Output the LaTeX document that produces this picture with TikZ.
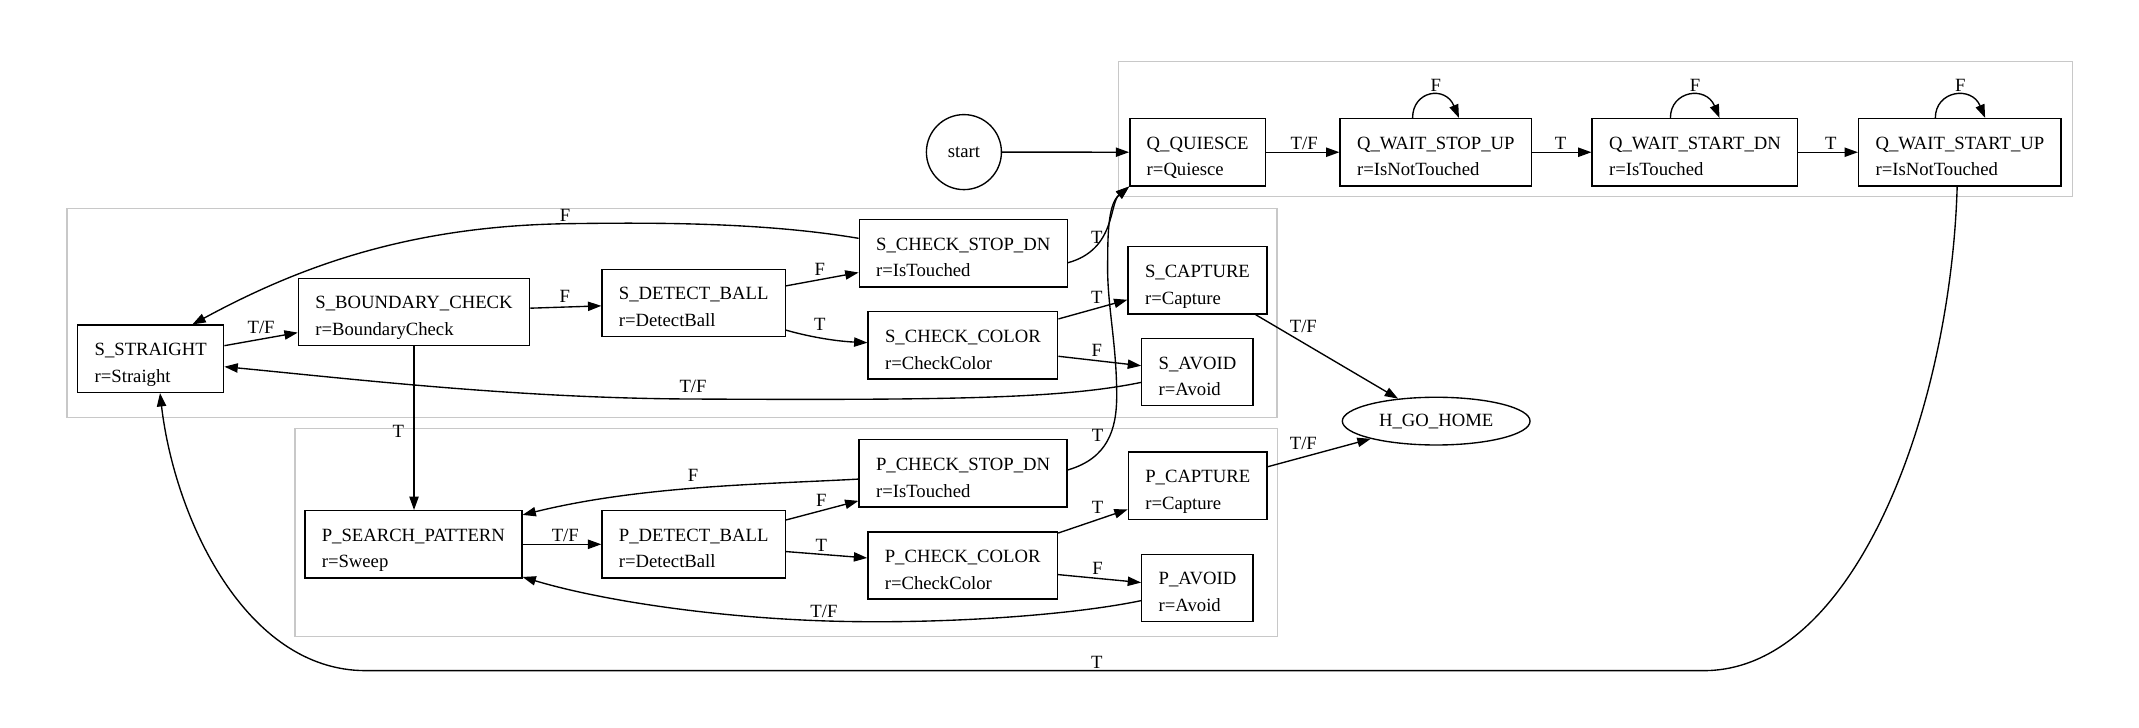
\documentclass[tikz,border=0pt]{standalone}
\usepackage{fontspec}
\setmainfont{Liberation Serif}
\usetikzlibrary{arrows.meta,shapes.geometric}
\definecolor{clgray}{RGB}{200,200,200}
\newcommand{\nfont}{\fontsize{13.7pt}{19.6pt}\selectfont}
\newcommand{\twoline}[2]{\rule{0pt}{22.4pt}#1\\#2\rule[-7.3pt]{0pt}{7.3pt}}
\tikzset{
  st/.style={draw, rectangle, line width=1pt, align=left, inner xsep=12.4pt, inner ysep=0pt, font=\nfont},
  startst/.style={draw, circle, line width=1pt, minimum size=55pt, inner sep=0pt, font=\nfont},
  home/.style={draw, ellipse, line width=1pt, minimum width=137.6pt, minimum height=35pt, inner sep=0pt, font=\nfont},
  edge/.style={line width=1pt, -{Triangle[length=9.8pt,width=6.8pt]}},
  lbl/.style={font=\nfont, inner sep=0pt},
  cluster/.style={draw=clgray, line width=1pt},
}
\begin{document}
\begin{tikzpicture}[x=1pt,y=1pt]
\useasboundingbox (0,0) rectangle (1568,-533);
\fill[white] (0,0) rectangle (1568,-533);
% clusters
\draw[cluster] (820,-45.2) rectangle (1519,-144.2);
\draw[cluster] (49,-152.7) rectangle (936,-306);
\draw[cluster] (216.2,-314) rectangle (936.5,-466.8);
% nodes
\node[startst] (start) at (706.6,-111.5) {start};
\node[st] (qq) at (877.9,-111.6) {\twoline{Q\_QUIESCE}{r=Quiesce}};
\node[st] (qwsu) at (1052.5,-111.6) {\twoline{Q\_WAIT\_STOP\_UP}{r=IsNotTouched}};
\node[st] (qwsd) at (1242.5,-111.6) {\twoline{Q\_WAIT\_START\_DN}{r=IsTouched}};
\node[st] (qwsp) at (1436.7,-111.6) {\twoline{Q\_WAIT\_START\_UP}{r=IsNotTouched}};
\node[st] (sst) at (110.5,-263) {\twoline{S\_STRAIGHT}{r=Straight}};
\node[st] (sbc) at (303.5,-228.7) {\twoline{S\_BOUNDARY\_CHECK}{r=BoundaryCheck}};
\node[st] (sdb) at (508.5,-222) {\twoline{S\_DETECT\_BALL}{r=DetectBall}};
\node[st] (scsd) at (706.1,-185.7) {\twoline{S\_CHECK\_STOP\_DN}{r=IsTouched}};
\node[st] (scc) at (705.9,-253.2) {\twoline{S\_CHECK\_COLOR}{r=CheckColor}};
\node[st] (scap) at (877.8,-205.5) {\twoline{S\_CAPTURE}{r=Capture}};
\node[st] (sav) at (877.8,-272.8) {\twoline{S\_AVOID}{r=Avoid}};
\node[home] (home) at (1052.8,-308.7) {H\_GO\_HOME};
\node[st] (pss) at (303,-399) {\twoline{P\_SEARCH\_PATTERN}{r=Sweep}};
\node[st] (pdb) at (508.5,-399) {\twoline{P\_DETECT\_BALL}{r=DetectBall}};
\node[st] (pcsd) at (706,-347) {\twoline{P\_CHECK\_STOP\_DN}{r=IsTouched}};
\node[st] (pcc) at (705.7,-414.5) {\twoline{P\_CHECK\_COLOR}{r=CheckColor}};
\node[st] (pcap) at (878,-356) {\twoline{P\_CAPTURE}{r=Capture}};
\node[st] (pav) at (877.8,-431) {\twoline{P\_AVOID}{r=Avoid}};
% Q edges
\draw[edge] (start) -- (qq);
\draw[edge] (qq) -- (qwsu) node[lbl] at (956,-105) {T/F};
\draw[edge] (qwsu) -- (qwsd) node[lbl] at (1144,-105) {T};
\draw[edge] (qwsd) -- (qwsp) node[lbl] at (1342,-105) {T};
\draw[edge] ([xshift=-17pt]qwsu.north) .. controls +(0,20) and +(-10,24) .. ([xshift=17pt]qwsu.north) node[lbl] at (1052.5,-62.3) {F};
\draw[edge] ([xshift=-18pt]qwsd.north) .. controls +(0,20) and +(-10,24) .. ([xshift=18pt]qwsd.north) node[lbl] at (1242.5,-62.3) {F};
\draw[edge] ([xshift=-18pt]qwsp.north) .. controls +(0,20) and +(-10,24) .. ([xshift=18.5pt]qwsp.north) node[lbl] at (1437,-62.3) {F};
\draw[edge] ([xshift=-2pt]qwsp.south) .. controls (1430,-300) and (1360,-491.6) .. (1249,-491.6) -- (268,-491.6) .. controls (180,-491.6) and (128,-380) .. ([xshift=6.8pt]sst.south) node[lbl] at (804,-485.7) {T};
% S edges
\draw[edge] (sst) -- (sbc) node[lbl] at (191.4,-240.3) {T/F};
\draw[edge] (sbc) -- (sdb) node[lbl] at (414,-216.9) {F};
\draw[edge] (sbc.south) -- (sbc.south |- pss.north) node[lbl] at (292,-316) {T};
\draw[edge] (sdb) -- (scsd) node[lbl] at (601,-197.3) {F};
\draw[edge] ([yshift=-20pt]sdb.east) .. controls (590,-246) and (610,-250) .. ([yshift=2pt]scc.west) node[lbl] at (601,-237.7) {T};
\draw[edge] ([yshift=11pt]scsd.west) .. controls (560,-163) and (480,-163) .. (414,-164) .. controls (300,-166) and (220,-195) .. ([xshift=30.5pt]sst.north) node[lbl] at (414.2,-157.9) {F};
\draw[edge] ([yshift=-6.9pt]scsd.east) .. controls (818,-183) and (813,-149) .. (qq.south west) node[lbl] at (804,-173.9) {T};
\draw[edge] (scc) -- (scap) node[lbl] at (804,-218.1) {T};
\draw[edge] (scc) -- (sav) node[lbl] at (804,-257.2) {F};
\draw[edge] ([yshift=-7.5pt]sav.west) .. controls (780,-292) and (700,-293.5) .. (508,-292.5) .. controls (380,-292) and (260,-278) .. ([yshift=-5.8pt]sst.east) node[lbl] at (508,-283.5) {T/F};
\draw[edge] (scap) -- (home) node[lbl] at (955.4,-239.5) {T/F};
% P edges
\draw[edge] (pcap) -- (home) node[lbl] at (955.4,-325) {T/F};
\draw[edge] (pss) -- (pdb) node[lbl] at (414.4,-392.5) {T/F};
\draw[edge] (pdb) -- (pcsd) node[lbl] at (602,-366.6) {F};
\draw[edge] (pdb) -- (pcc) node[lbl] at (602,-399.5) {T};
\draw[edge] ([yshift=-4.2pt]pcsd.west) .. controls (560,-355) and (470,-356) .. ([yshift=-3.6pt]pss.north east) node[lbl] at (508,-348.6) {F};
\draw[edge] ([yshift=2.5pt]pcsd.east) .. controls (812,-336) and (818.6,-315) .. (818.6,-290) .. controls (818.6,-250) and (811,-222) .. (812,-190) .. controls (812,-168) and (813,-149) .. (qq.south west) node[lbl] at (804.6,-318.9) {T};
\draw[edge] (pcc) -- (pcap) node[lbl] at (804.6,-372.2) {T};
\draw[edge] (pcc) -- (pav) node[lbl] at (804.6,-416.6) {F};
\draw[edge] ([yshift=-9.3pt]pav.west) .. controls (780,-452) and (680,-458) .. (600,-455) .. controls (520,-452) and (440,-440) .. ([yshift=1.2pt]pss.south east) node[lbl] at (604,-448) {T/F};
\end{tikzpicture}
\end{document}
